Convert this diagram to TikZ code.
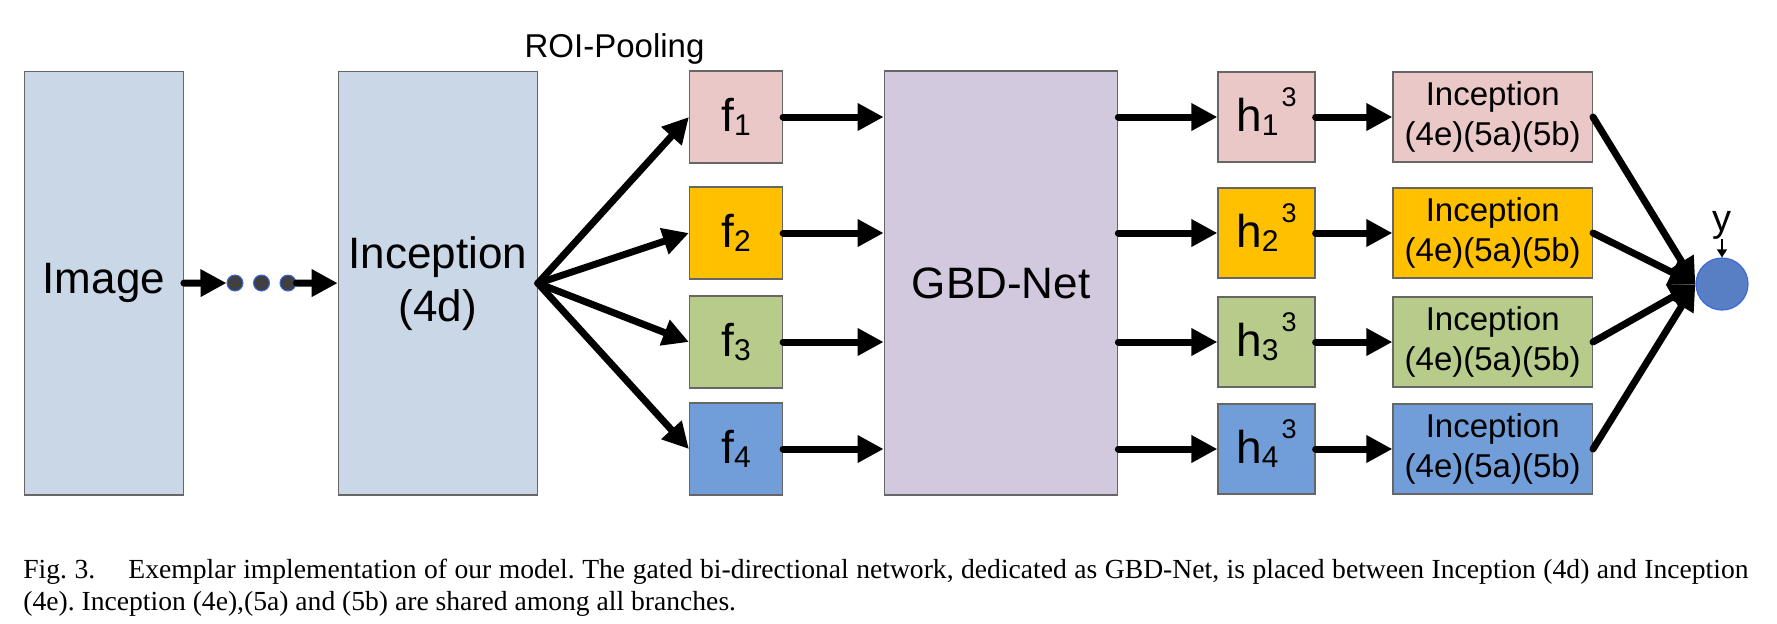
\documentclass[tikz,border=0pt]{standalone}
\usepackage{fontspec}
\setmainfont{Liberation Sans}
\newfontfamily\capfont{Liberation Serif}
\usetikzlibrary{arrows.meta}

\definecolor{stemblue}{RGB}{201,215,230}
\definecolor{pinkbox}{RGB}{235,200,200}
\definecolor{goldbox}{RGB}{255,192,0}
\definecolor{greenbox}{RGB}{183,203,138}
\definecolor{bluebox}{RGB}{113,158,217}
\definecolor{gbdbox}{RGB}{211,201,223}
\definecolor{outblue}{RGB}{88,126,196}
\definecolor{rimblue}{RGB}{60,105,225}

\newcommand{\brsub}[1]{\raisebox{-2pt}{\fontsize{15}{15}\selectfont #1}}
\newcommand{\brsup}[1]{\hspace{1.5pt}\smash{\raisebox{12.5pt}{\fontsize{13.5}{13.5}\selectfont #1}}}

\begin{document}
\frenchspacing
\begin{tikzpicture}[x=0.5pt, y=-0.5pt,
	box/.style={draw=black!60, line width=0.6pt, inner sep=0pt, align=center},
	bigtext/.style={font=\fontsize{22}{26.5}\selectfont},
	lettertext/.style={font=\fontsize{23}{23}\selectfont},
	smalltext/.style={font=\fontsize{16.5}{20}\selectfont},
	flow/.style={-{Triangle[length=13pt,width=13pt]}, line width=3.5pt, line cap=round},
	dot/.style={circle, fill=black!75, draw=rimblue, line width=0.5pt, minimum size=8pt, inner sep=0pt}]
	
	\useasboundingbox (0,0) rectangle (1777,623);
	
	%Stamm
	\node[box, bigtext, fill=stemblue, minimum width=79.4pt, minimum height=211.7pt] (img) at (103.9,283.3) {Image};
	\node[box, bigtext, fill=stemblue, minimum width=99.5pt, minimum height=211.7pt] (inc4d) at (437.8,283.3) {Inception\\(4d)};
	\node[dot] (d1) at (235,283) {};
	\node[dot] (d2) at (261.5,283) {};
	\node[dot] (d3) at (288,283) {};
	\draw[flow] (img) -- (d1);
	\draw[flow] (d3) -- (inc4d);
	
	\node[font=\fontsize{16.5}{20}\selectfont, anchor=base] (roi) at (614.5,57) {ROI-Pooling};
	
	\node[box, bigtext, fill=gbdbox, minimum width=116.75pt, minimum height=212pt] (gbd) at (1001,283) {GBD-Net};
	
	\node[circle, fill=outblue, draw=rimblue, line width=0.6pt, minimum size=26pt, inner sep=0pt] (out) at (1722,284) {};
	\node[font=\fontsize{19}{19}\selectfont, anchor=base] (ylab) at (1722,231) {y};
	\coordinate (ytail) at (1722,239);
	\draw[-{Triangle[length=4pt,width=5pt]}, line width=0.6pt] (ytail) -- (out);
	
	%Zweige
	\foreach \i/\yy/\col in {1/117/pinkbox, 2/233/goldbox, 3/342/greenbox, 4/449/bluebox} {
		\node[box, lettertext, fill=\col, minimum width=46.5pt, minimum height=46pt] (f\i) at (736,\yy) {f\brsub{\i}};
		\node[box, lettertext, fill=\col, minimum width=48.5pt, minimum height=45pt] (h\i) at (1266.5,\yy) {h\brsub{\i}\brsup{3}};
		\node[box, smalltext, fill=\col, minimum width=99.7pt, minimum height=45pt] (inc\i) at (1492.7,\yy) {Inception\\(4e)(5a)(5b)};
		
		\draw[flow] (inc4d.east) -- (f\i.west);
		\draw[flow] (f\i) -- (gbd.west |- f\i);
		\draw[flow] (gbd.east |- h\i) -- (h\i);
		\draw[flow] (h\i) -- (inc\i);
		\draw[flow] (inc\i.east) -- (out.west);
	}
	
	%Bildunterschrift
	\node[anchor=base west, inner sep=0pt, font=\capfont\fontsize{13.8}{16}\selectfont] (cap1) at (23,578)
		{\makebox[862.5pt][s]{Fig.~3.\hspace{1.2em}Exemplar implementation of our model. The gated bi-directional network, dedicated as GBD-Net, is placed between Inception (4d) and Inception}};
	\node[anchor=base west, inner sep=0pt, font=\capfont\fontsize{13.8}{16}\selectfont] (cap2) at (23,610)
		{(4e). Inception (4e),(5a) and (5b) are shared among all branches.};
\end{tikzpicture}
\end{document}
